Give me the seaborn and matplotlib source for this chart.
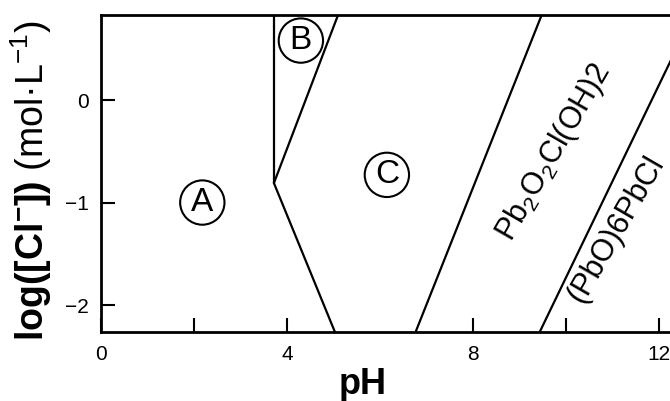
import matplotlib
matplotlib.use('Agg')
import matplotlib.pyplot as plt
import seaborn as sns
import pandas as pd

sns.set_style('ticks')
plt.rcParams['font.family'] = ['Liberation Sans', 'DejaVu Sans']
plt.rcParams['mathtext.fontset'] = 'custom'
plt.rcParams['mathtext.rm'] = 'Liberation Sans'
plt.rcParams['mathtext.bf'] = 'Liberation Sans:bold'
plt.rcParams['mathtext.it'] = 'Liberation Sans:italic'
plt.rcParams['text.color'] = 'black'
plt.rcParams['axes.edgecolor'] = 'black'
plt.rcParams['axes.labelcolor'] = 'black'
plt.rcParams['xtick.color'] = 'black'
plt.rcParams['ytick.color'] = 'black'

## 영역 경계선 (pH, log[Cl-])
seg_names = ['AB', 'BC', 'AC', 'C_Pb2O2', 'Pb2O2_PbO6']
seg_ph = [[3.72, 3.72], [3.72, 5.10], [3.72, 5.03], [6.77, 9.48], [9.44, 12.73]]
seg_log = [[0.83, -0.81], [-0.81, 0.83], [-0.81, -2.26], [-2.26, 0.83], [-2.26, 0.83]]

## 영역 라벨
circle_labels = ['A', 'B', 'C']
circle_ph = [2.18, 4.30, 6.15]
circle_log = [-1.0, 0.58, -0.73]

phase_labels = ['Pb$_2$O$_2$Cl(OH)2', '(PbO)6PbCl']
phase_ph = [9.74, 11.08]
phase_log = [-0.51, -1.26]

xtick_vals = [0, 2, 4, 8, 10, 12]
xtick_text = ['0', '', '4', '8', '', '12']
ytick_vals = [-2, -1, 0]

rows = []
for name, xs, ys in zip(seg_names, seg_ph, seg_log):
    for i, (x, y) in enumerate(zip(xs, ys)):
        rows.append({'seg': name, 'order': i, 'pH': x, 'logCl': y})
df = pd.DataFrame(rows)

fig = plt.figure(figsize=(6.7, 4.01), dpi=100)
ax = fig.add_axes([0.1507, 0.172, 0.8493, 0.7905])

sns.lineplot(data=df, x='pH', y='logCl', units='seg', estimator=None,
             sort=False, color='black', linewidth=1.6, ax=ax, legend=False)

## 원 문자 라벨
for lab, x, y in zip(circle_labels, circle_ph, circle_log):
    ax.text(x, y, lab, fontsize=24, ha='center', va='center',
            bbox=dict(boxstyle='circle,pad=0.2', fc='none', ec='black', lw=1.5))

## 상 이름 (회전)
for lab, x, y in zip(phase_labels, phase_ph, phase_log):
    ax.text(x, y, lab, fontsize=22, ha='center', va='center',
            rotation=60, rotation_mode='anchor')

ax.set_xlim(0, 12.24)
ax.set_ylim(-2.263, 0.829)
ax.set_xticks(xtick_vals)
ax.set_xticklabels(xtick_text)
ax.set_yticks(ytick_vals)
ax.tick_params(direction='in', length=10, width=1.5, labelsize=15, pad=9)

ax.spines['right'].set_visible(False)
for s in ['left', 'top', 'bottom']:
    ax.spines[s].set_linewidth(2)

ax.set_xlabel('pH', fontsize=26, fontweight='bold')
ax.xaxis.set_label_coords(0.46, -0.11)
ax.set_ylabel(r'$\mathbf{log([Cl^{-}])}$ (mol·L$^{-1}$)', fontsize=27)
ax.yaxis.set_label_coords(-0.083, 0.479)

fig.savefig('out.png', dpi=100)
